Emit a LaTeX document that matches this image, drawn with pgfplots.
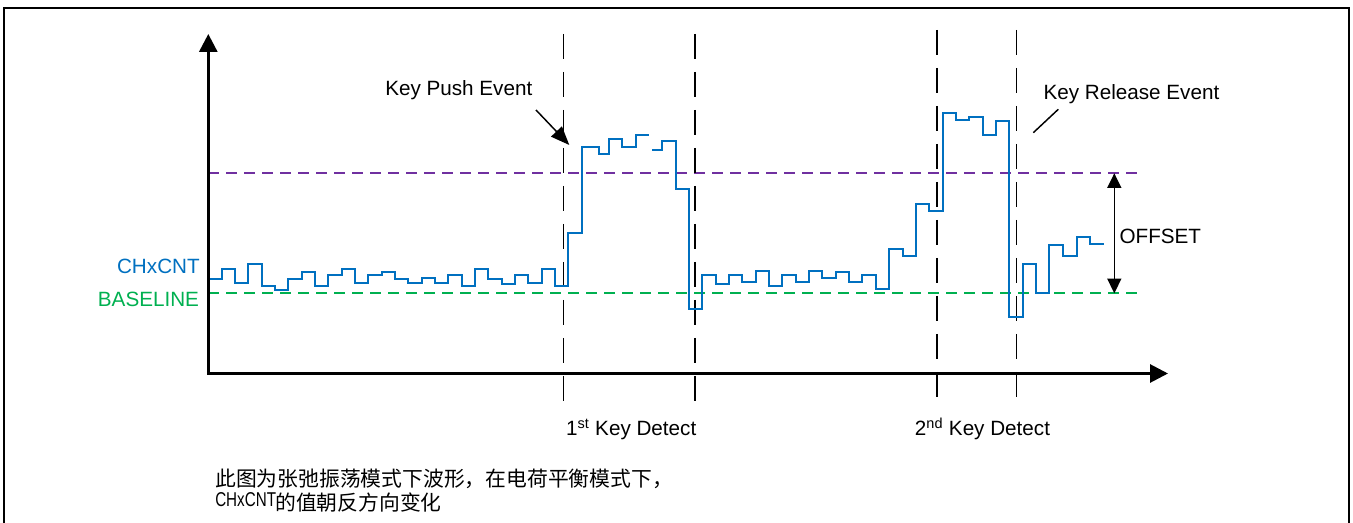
\documentclass[border=0pt]{standalone}
\usepackage{graphicx}
\usepackage{fontspec}
\setmainfont{Liberation Sans}
\newfontfamily\cjk{Noto Sans CJK SC}
\usepackage{pgfplots}
\pgfplotsset{compat=1.18}
\usetikzlibrary{arrows.meta}
\definecolor{wave}{HTML}{0070C0}
\definecolor{basec}{HTML}{00B050}
\definecolor{offs}{HTML}{7030A0}
\begin{document}
\begin{tikzpicture}
\useasboundingbox (0,0) rectangle (1014.75pt,392.25pt);
\begin{axis}[at={(0,0)},anchor=south west, scale only axis,
  width=1014.75pt, height=392.25pt,
  xmin=0,xmax=1353,ymin=0,ymax=523, y dir=reverse,
  hide axis, clip=false]
% frame
\draw[black, line width=1.6pt] (4,530) -- (4,8) -- (1349,8) -- (1349,530);
% reference lines
\draw[basec, line width=1.5pt, dash pattern=on 8.25pt off 5.25pt] (208,293.3) -- (1142,293.3);
\draw[offs, line width=1.3pt, dash pattern=on 8.25pt off 5.25pt] (208,173) -- (1142,173);
% detect lines
\draw[black, line width=1.4pt, dash pattern=on 18.75pt off 9.75pt] (563.5,34) -- (563.5,402);
\draw[black, line width=1.4pt, dash pattern=on 18.75pt off 9.75pt] (695,34) -- (695,402);
\draw[black, line width=1.4pt, dash pattern=on 18.75pt off 9.75pt] (937,30) -- (937,402);
\draw[black, line width=1.4pt, dash pattern=on 18.75pt off 9.75pt] (1016.5,30) -- (1016.5,402);
% waveform
\addplot[wave, line width=1.5pt, const plot, mark=none] coordinates {
(208.3,278.7) (221.7,269.3) (235,282.7) (248.3,263.7) (261.7,286) (275,290.3)
(288.3,278.7) (301.7,272.3) (315,286) (328.3,274.7) (341.7,269.3) (355,282.7)
(368.3,275.3) (381.7,271.7) (395,278.7) (408.3,282.7) (421.7,277.7) (435,282.7)
(448.3,274.7) (461.7,286) (475,269.3) (488.3,278.7) (501.7,284.3) (515,274.7)
(528.3,282.7) (541.7,269.3) (555,286) (568.3,233.3) (582.3,147) (599,154)
(609,139.3) (622.3,146.7) (635.7,135.3) (649,135.3)};
\addplot[wave, line width=1.5pt, const plot, mark=none] coordinates {
(652.3,150.3) (662.3,141.3) (675.7,188.7) (689,309) (702.3,274.7) (715.7,284)
(729,274.7) (742.3,282.3) (755.7,271.3) (769,286) (782.3,274.7) (795.7,282.3)
(809,271.3) (822.3,277.7) (835.7,272) (849,282.3) (862.3,274.7) (875.7,288.7)
(889,248.7) (902.5,255.7) (916,203.7) (929.3,210.7) (942.7,113) (956,120.3)
(969.3,116.7) (982.7,135) (996,120.7) (1009.3,316.7) (1022.7,263.7) (1036,293.3)
(1049.3,244.7) (1062.7,256) (1076.7,237.3) (1090,243.7) (1104,243.7)};
% axes
\draw[black, line width=2.2pt, -{Triangle[length=13.5pt,width=13.5pt]}] (208.3,373.5) -- (208.3,34);
\draw[black, line width=2.2pt, -{Triangle[length=13.5pt,width=13.5pt]}] (207,373.5) -- (1168,373.5);
% offset arrow
\draw[black, line width=1.1pt, {Triangle[length=11pt,width=10.5pt]}-{Triangle[length=11pt,width=10.5pt]}] (1114.3,173.3) -- (1114.3,293.3);
% key push arrow
\draw[black, line width=1.1pt, -{Triangle[length=14pt,width=11pt]}] (536,110) -- (569.3,145);
\draw[black, line width=1.1pt] (1033.3,132.7) -- (1058.3,109.3);
% labels
\begin{scope}[every node/.style={font=\fontsize{15.5}{18}\selectfont, inner sep=0pt}]
\node[anchor=base west] at (385,95.7) {Key Push Event};
\node[anchor=base west] at (1043.3,100) {Key Release Event};
\node[anchor=base west] at (565.8,435.7) {1\textsuperscript{st} Key Detect};
\node[anchor=base west] at (914.7,435.7) {2\textsuperscript{nd} Key Detect};
\node[anchor=base west] at (1119.3,244) {OFFSET};
\node[anchor=base east, text=wave] at (200,273.3) {CHxCNT};
\node[anchor=base east, text=basec] at (199.3,306.7) {BASELINE};
\node[anchor=base west, font=\fontsize{15.6}{18}\selectfont] at (215,487) {{\cjk 此图为张弛振荡模式下波形，在电荷平衡模式下，}};
\node[anchor=base west, font=\fontsize{15}{18}\selectfont] at (215,507) {\scalebox{0.76}[1]{CHxCNT}};
\node[anchor=base west, font=\fontsize{15.6}{18}\selectfont] at (275,510.5) {{\cjk 的值朝反方向变化}};
\end{scope}
\end{axis}
\end{tikzpicture}
\end{document}
